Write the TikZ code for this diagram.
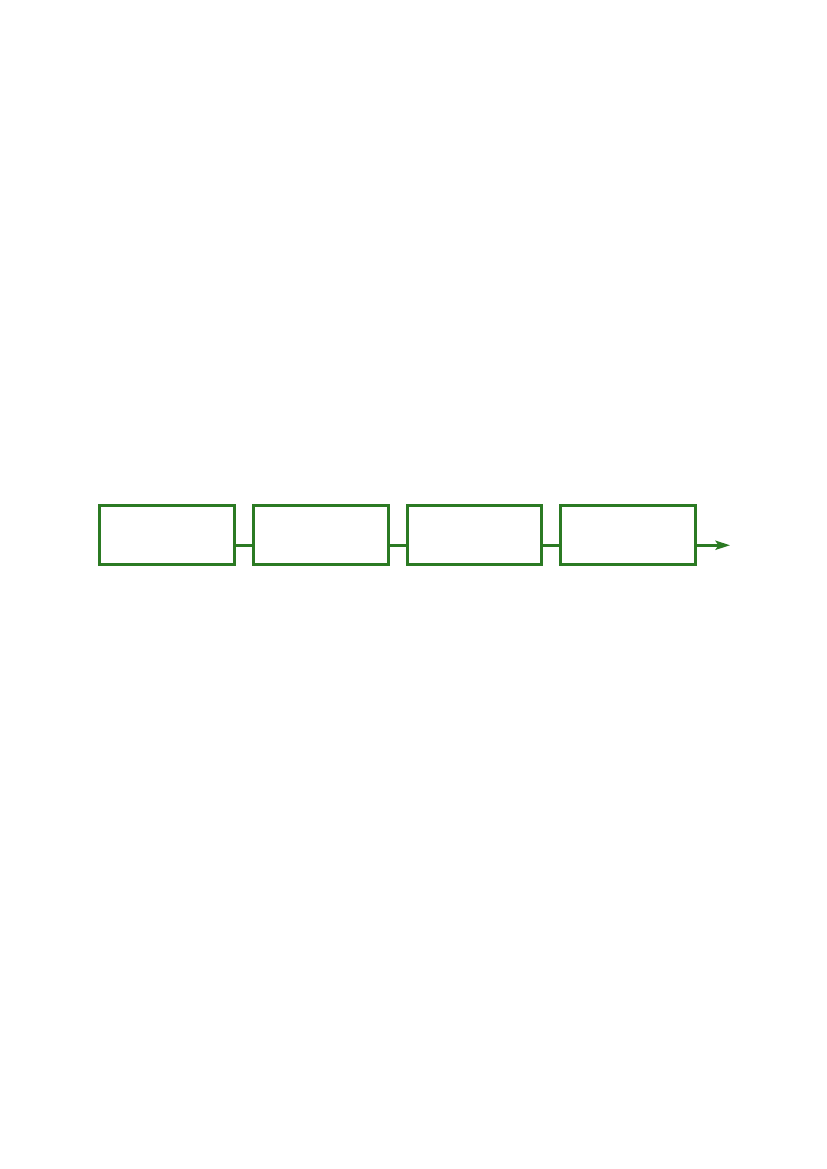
\documentclass[tikz,border=0pt]{standalone}
\usetikzlibrary{positioning,arrows.meta}
\definecolor{boxgreen}{RGB}{43,122,35}
\tikzset{
stagebox/.style={draw=boxgreen,line width=2.1pt,minimum width=97pt,minimum height=42.5pt,inner sep=0pt},
link/.style={draw=boxgreen,line width=2.1pt}
}
\begin{document}
\begin{tikzpicture}
\useasboundingbox (0,0) rectangle (595.3pt,841.9pt);
\node[stagebox] (s1) at (120.3pt,456.4pt) {};
\node[stagebox,right=11.6pt of s1] (s2) {};
\node[stagebox,right=11.6pt of s2] (s3) {};
\node[stagebox,right=11.6pt of s3] (s4) {};
\foreach \a/\b in {s1/s2,s2/s3,s3/s4}
{
\draw[link] ([yshift=-7.2pt]\a.east)--([yshift=-7.2pt]\b.west);
}
\coordinate (out) at ([xshift=23.9pt,yshift=-7.2pt]s4.east);
\draw[link,-{Stealth[length=10.5pt,width=6.5pt,inset=2pt]}] ([yshift=-7.2pt]s4.east)--(out);
\end{tikzpicture}
\end{document}
